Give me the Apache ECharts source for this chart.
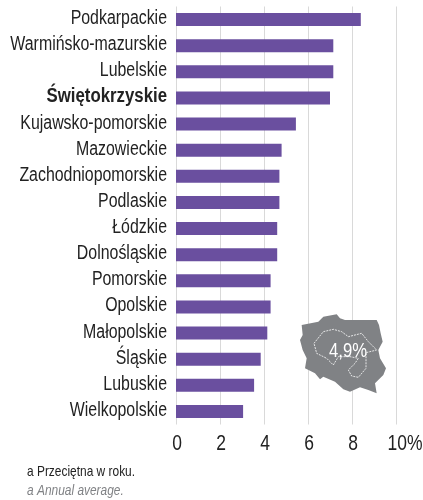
<!DOCTYPE html>
<html><head><meta charset="utf-8">
<style>html,body{margin:0;padding:0;background:#fff}#c{width:423px;height:500px}</style>
<script src="https://cdn.jsdelivr.net/npm/echarts@6/dist/echarts.min.js"></script>
</head><body><div id="c"></div>
<script>
const categories = ["Podkarpackie","Warmińsko-mazurskie","Lubelskie","Świętokrzyskie","Kujawsko-pomorskie","Mazowieckie","Zachodniopomorskie","Podlaskie","Łódzkie","Dolnośląskie","Pomorskie","Opolskie","Małopolskie","Śląskie","Lubuskie","Wielkopolskie"];
const values = [8.4,7.15,7.15,7.0,5.45,4.8,4.7,4.7,4.6,4.6,4.3,4.3,4.15,3.85,3.55,3.05];
const ticks = [0,2,4,6,8,10];
const highlighted = "Świętokrzyskie";
const averageLabel = "4,9%";
const note1 = "a Przeciętna w roku.";
const note2 = "a Annual average.";
const font = '"Liberation Sans",sans-serif';
const squeeze = 0.795;
// decorative map of Poland (pixel outline)
const outline = [[65,75],[115,65],[130,50],[170,43],[180,55],[195,60],[240,60],[290,60],[297,75],[302,100],[308,125],[295,150],[300,175],[318,205],[310,225],[285,250],[290,280],[265,270],[240,262],[210,275],[190,268],[165,245],[130,230],[120,238],[105,220],[75,205],[80,175],[68,150],[60,120],[68,105]].map(p=>[280+p[0]/3,300+p[1]/3]);
const region = [[102,130],[130,95],[160,88],[185,95],[205,110],[245,100],[265,125],[290,150],[258,158],[258,205],[235,232],[215,228],[205,210],[225,190],[235,175],[210,170],[175,170],[160,195],[140,175],[110,160]].map(p=>[280+p[0]/3,300+p[1]/3]);
const chart = echarts.init(document.getElementById('c'),null,{renderer:'canvas'});
chart.setOption({
  animation:false,
  grid:{left:176,top:6.5,width:220,height:418,containLabel:false,outerBoundsMode:'none'},
  xAxis:{type:'value',min:0,max:10,interval:2,
    axisLine:{show:false},axisTick:{show:false},
    splitLine:{show:true,lineStyle:{color:'#d9d9d9',width:1}},
    axisLabel:{show:false}
  },
  yAxis:{type:'category',inverse:true,data:categories,
    axisLine:{show:false},axisTick:{show:false},axisLabel:{show:false}
  },
  series:[
    {type:'bar',data:values,barWidth:13,itemStyle:{color:'#6a4f9f'},silent:true},
    {type:'custom',silent:true,clip:false,coordinateSystem:'cartesian2d',
      data:categories.map(c=>[0,c]),
      renderItem:(params,api)=>{
        const p=api.coord([0,api.value(1)]);
        const name=categories[params.dataIndex];
        const bold=name===highlighted;
        return {type:'text',x:p[0]-9,y:p[1]-1,scaleX:bold?0.84:squeeze,
          style:{text:name,align:'right',verticalAlign:'middle',fill:'#222',
            font:(bold?'bold ':'')+'20px '+font}};
      }},
    {type:'custom',silent:true,clip:false,coordinateSystem:'cartesian2d',
      data:ticks.map(t=>[t,categories[categories.length-1]]),
      renderItem:(params,api)=>{
        const t=api.value(0);
        const p=api.coord([t,api.value(1)]);
        const big=t===ticks[ticks.length-1];
        return {type:'text',x:p[0]+(big?9:1),y:p[1]+32,scaleX:squeeze,
          style:{text:big?t+'%':String(t),align:'center',verticalAlign:'middle',fill:'#222',
            font:'22px '+font}};
      }}
  ],
  graphic:[
    {type:'polygon',z:10,shape:{points:outline},style:{fill:'#808285'}},
    {type:'polygon',z:11,shape:{points:region},style:{fill:'none',stroke:'#fff',lineWidth:0.8,lineDash:[2,1]}},
    {type:'text',z:12,x:348,y:351,scaleX:squeeze,style:{text:averageLabel,fill:'#fff',font:'21px '+font,align:'center',verticalAlign:'middle'}},
    {type:'text',z:12,x:27,y:472,scaleX:squeeze,style:{text:note1,fill:'#222',font:'15px '+font,verticalAlign:'middle'}},
    {type:'text',z:12,x:27,y:491,scaleX:squeeze,style:{text:note2,fill:'#808285',font:'italic 15px '+font,verticalAlign:'middle'}}
  ]
});
</script></body></html>
